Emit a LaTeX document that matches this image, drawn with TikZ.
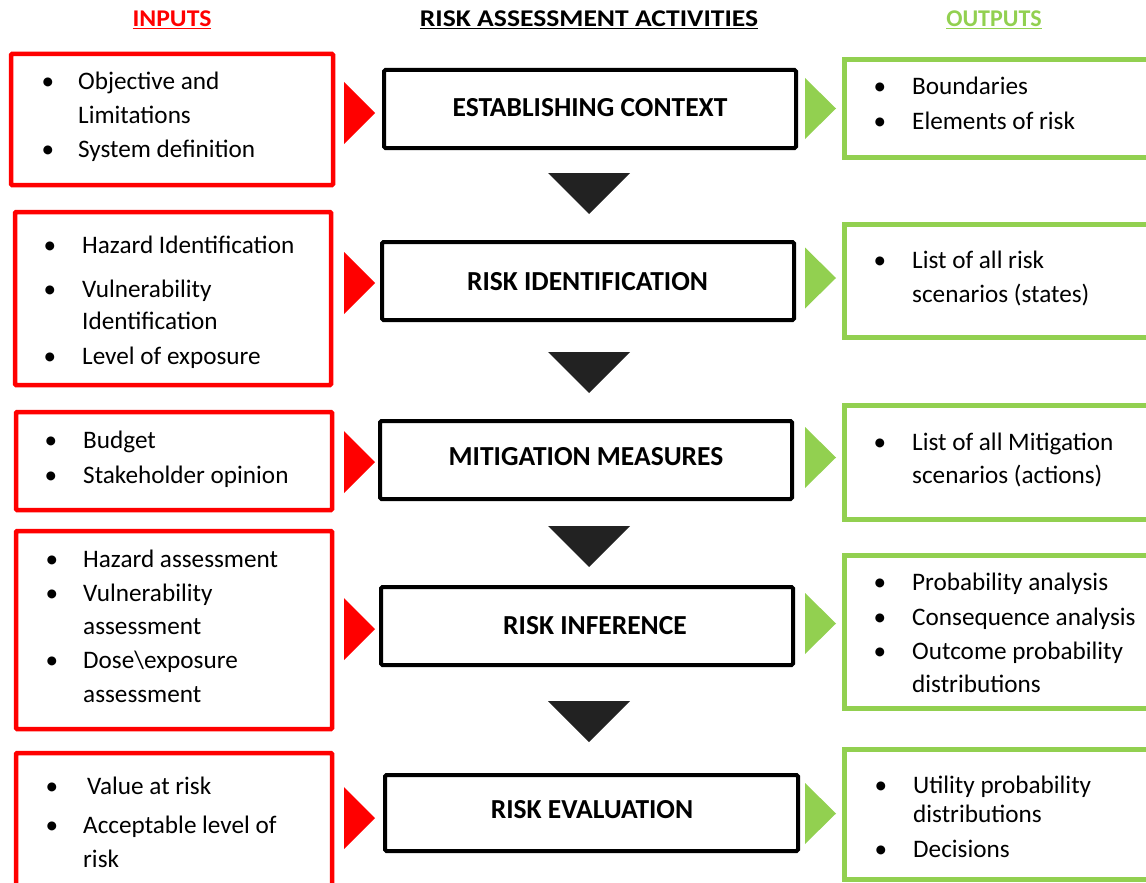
\documentclass[tikz,border=0pt]{standalone}
\usepackage{graphicx}
\usepackage{fontspec}
\setmainfont{Carlito}
\definecolor{inred}{HTML}{FF0000}
\definecolor{outgreen}{HTML}{92D050}
\definecolor{tridark}{HTML}{222222}
\begin{document}
\begin{tikzpicture}[x=1pt,y=-1pt,
  inbox/.style={draw=inred, line width=4.5pt, inner sep=0pt, rounded corners=1pt},
  outbox/.style={draw=outgreen, line width=4.5pt, inner sep=0pt},
  actbox/.style={draw=black, line width=4pt, inner sep=0pt, rounded corners=1.5pt},
  txt/.style={font=\fontsize{25.2}{30}\selectfont, anchor=base west, inner sep=0pt},
  bul/.style={font=\fontsize{25.2}{30}\selectfont, anchor=base, inner sep=0pt},
  lbl/.style={font=\bfseries\fontsize{27.5}{32}\selectfont, anchor=base, inner sep=0pt},
  hdr/.style={font=\bfseries\fontsize{24}{28}\selectfont, anchor=base, inner sep=0pt},
]
\useasboundingbox (0,0) rectangle (1146,883);

% headers
\node[hdr, text=inred] (hin) at (172,27) {\scalebox{1.07}[1]{\underline{INPUTS}}};
\node[hdr, text=black] (hact) at (589,27) {\scalebox{1.15}[1]{\underline{RISK ASSESSMENT ACTIVITIES}}};
\node[hdr, text=outgreen] (hout) at (994,27) {\underline{OUTPUTS}};

% input boxes
\node[inbox, minimum width=322, minimum height=131] (in1) at (172,119.5) {};
\node[inbox, minimum width=316, minimum height=173] (in2) at (173,298.5) {};
\node[inbox, minimum width=316, minimum height=98] (in3) at (174,461) {};
\node[inbox, minimum width=316, minimum height=198] (in4) at (174,630) {};
\node[inbox, minimum width=316, minimum height=160] (in5) at (174,833) {};

% activity boxes
\node[actbox, minimum width=412, minimum height=78] (a1) at (590,109) {};
\node[actbox, minimum width=412, minimum height=78] (a2) at (588,281) {};
\node[actbox, minimum width=412, minimum height=78] (a3) at (586,460) {};
\node[actbox, minimum width=412, minimum height=78] (a4) at (587,626) {};
\node[actbox, minimum width=413, minimum height=76] (a5) at (591.5,813) {};
\node[lbl] (l1) at (590,116) {ESTABLISHING CONTEXT};
\node[lbl] (l2) at (587.5,290) {RISK IDENTIFICATION};
\node[lbl] (l3) at (586,465) {MITIGATION MEASURES};
\node[lbl] (l4) at (595,634) {RISK INFERENCE};
\node[lbl] (l5) at (592,818) {RISK EVALUATION};

% output boxes (run off the right edge)
\node[outbox, minimum width=340, minimum height=98] (o1) at (1014.5,108.5) {};
\node[outbox, minimum width=340, minimum height=113] (o2) at (1014.5,281) {};
\node[outbox, minimum width=340, minimum height=114] (o3) at (1014.5,462.5) {};
\node[outbox, minimum width=340, minimum height=153] (o4) at (1014.5,632) {};
\node[outbox, minimum width=340, minimum height=130] (o5) at (1014.5,814.5) {};

% red triangles
\foreach \c in {113,283,462,629,818}
  \fill[inred] (344,\c-31) -- (375,\c) -- (344,\c+31) -- cycle;
% green triangles
\foreach \c in {108.5,278,457.5,623.5,813.5}
  \fill[outgreen] (805,\c-30.5) -- (836,\c) -- (805,\c+30.5) -- cycle;
% dark down triangles
\foreach \t in {173,352,526,701}
  \fill[tridark] (548,\t) -- (630,\t) -- (589,\t+41) -- cycle;

% input texts
\node[bul] (b11) at (48,89) {•};
\node[txt] (t11) at (78,89) {Objective and};
\node[txt] (t12) at (78,123) {Limitations};
\node[bul] (b13) at (48,157) {•};
\node[txt] (t13) at (78,157) {System definition};

\node[bul] (b21) at (50,253) {•};
\node[txt] (t21) at (82,253) {Hazard Identification};
\node[bul] (b22) at (50,297) {•};
\node[txt] (t22) at (82,297) {Vulnerability};
\node[txt] (t23) at (82,329) {Identification};
\node[bul] (b24) at (50,364) {•};
\node[txt] (t24) at (82,364) {Level of exposure};

\node[bul] (b31) at (51,448) {•};
\node[txt] (t31) at (83,448) {Budget};
\node[bul] (b32) at (51,483) {•};
\node[txt] (t32) at (83,483) {Stakeholder opinion};

\node[bul] (b41) at (52,567) {•};
\node[txt] (t41) at (83,567) {Hazard assessment};
\node[bul] (b42) at (52,601) {•};
\node[txt] (t42) at (83,601) {Vulnerability};
\node[txt] (t43) at (83,634) {assessment};
\node[bul] (b44) at (52,668) {•};
\node[txt] (t44) at (83,668) {Dose\textbackslash exposure};
\node[txt] (t45) at (83,702) {assessment};

\node[bul] (b51) at (52,794) {•};
\node[txt] (t51) at (87,794) {Value at risk};
\node[bul] (b52) at (52,833) {•};
\node[txt] (t52) at (83,833) {Acceptable level of};
\node[txt] (t53) at (83,867) {risk};

% output texts
\node[bul] (c11) at (880,95) {•};
\node[txt] (u11) at (912,95) {Boundaries};
\node[bul] (c12) at (880,129) {•};
\node[txt] (u12) at (912,129) {Elements of risk};

\node[bul] (c21) at (880,268) {•};
\node[txt] (u21) at (912,268) {List of all risk};
\node[txt] (u22) at (912,302) {scenarios (states)};

\node[bul] (c31) at (880,450) {•};
\node[txt] (u31) at (912,450) {List of all Mitigation};
\node[txt] (u32) at (912,483) {scenarios (actions)};

\node[bul] (c41) at (880,590) {•};
\node[txt] (u41) at (912,590) {Probability analysis};
\node[bul] (c42) at (880,625) {•};
\node[txt] (u42) at (912,625) {Consequence analysis};
\node[bul] (c43) at (880,659) {•};
\node[txt] (u43) at (912,659) {Outcome probability};
\node[txt] (u44) at (912,692) {distributions};

\node[bul] (c51) at (881,793) {•};
\node[txt] (u51) at (913,793) {Utility probability};
\node[txt] (u52) at (913,822) {distributions};
\node[bul] (c53) at (881,857) {•};
\node[txt] (u53) at (913,857) {Decisions};
\end{tikzpicture}
\end{document}
